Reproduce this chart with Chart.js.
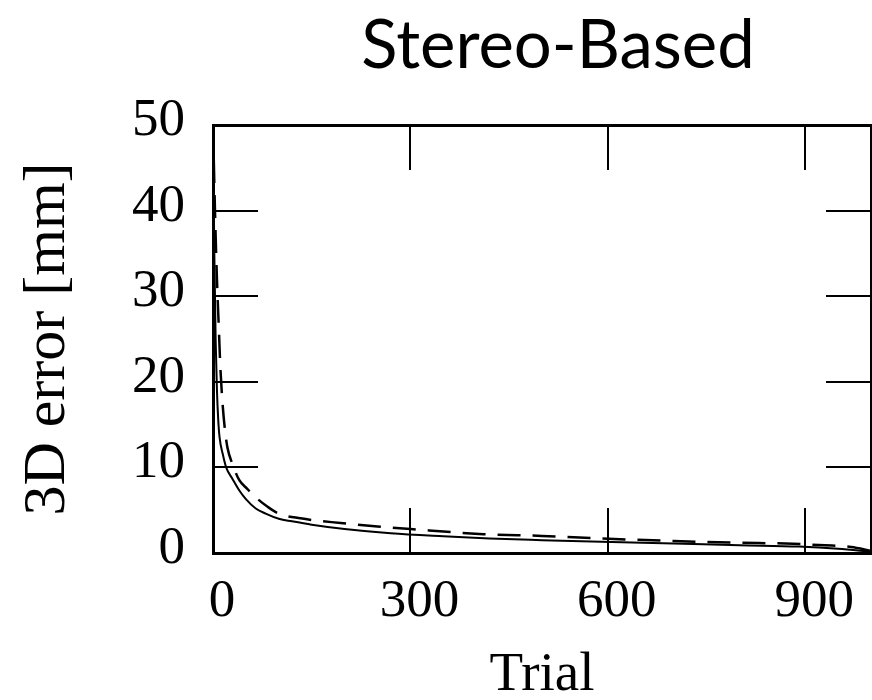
<!DOCTYPE html>
<html>
<head>
<meta charset="utf-8">
<script src="https://cdn.jsdelivr.net/npm/chart.js@4.4.0/dist/chart.umd.min.js"></script>
<style>
  html, body { margin: 0; padding: 0; background: #fff; }
</style>
</head>
<body>
<canvas id="errChart" width="872" height="700"></canvas>
<script>
// solid curve
var trialSolid = [0, 2, 4, 6, 8, 10, 15, 20, 30, 40, 50, 65, 80, 100, 120, 150, 200, 270, 350, 420, 500, 590, 700, 800, 890, 950, 1000];
var errSolid   = [50, 35, 25, 19, 15.5, 13.5, 11.5, 10, 8.6, 7.3, 6.3, 5.2, 4.6, 4.0, 3.7, 3.3, 2.8, 2.3, 1.95, 1.7, 1.5, 1.3, 1.1, 0.9, 0.75, 0.5, 0.15];
// dashed curve
var trialDash = [0, 3, 6, 9, 11, 14, 18, 22, 30, 40, 52, 65, 83, 100, 133, 194, 250, 300, 411, 500, 588, 700, 800, 870, 930, 970, 1000];
var errDash   = [50, 40, 32, 26, 22, 18, 14.5, 12.3, 10.3, 8.5, 7.5, 6.5, 5.4, 4.6, 4.05, 3.5, 3.1, 2.8, 2.2, 2.0, 1.7, 1.4, 1.2, 1.1, 0.9, 0.7, 0.25];

var xTickVals = [0, 300, 600, 900];
var yTickVals = [0, 10, 20, 30, 40, 50];

function pts(xs, ys) {
  return xs.map(function (x, i) { return { x: x, y: ys[i] }; });
}

var tickFont = { family: 'Liberation Serif', size: 53 };

// inward ticks, no grid inside the plot
function tickGrid() {
  return { drawOnChartArea: false, drawTicks: true, tickLength: -45, lineWidth: 2, color: '#000' };
}

// fixed axis box sizes, and no extra edge padding for the tick labels
function fixSize(w, h) {
  return function (axis) {
    if (w !== null) axis.width = w;
    if (h !== null) axis.height = h;
    axis.paddingLeft = axis.paddingRight = axis.paddingTop = axis.paddingBottom = 0;
  };
}

const plotTitle = {
  id: 'plotTitle',
  afterDraw(chart) {
    const ctx = chart.ctx, a = chart.chartArea;
    ctx.save();
    ctx.font = '67px Lato';
    ctx.fillStyle = '#000';
    ctx.textAlign = 'center';
    ctx.textBaseline = 'alphabetic';
    ctx.fillText('Stereo-Based', (a.left + a.right) / 2 + 16, 68);
    ctx.restore();
  }
};

var ctx = document.getElementById('errChart');
var chart = new Chart(ctx, {
  type: 'line',
  data: {
    datasets: [
      {
        data: pts(trialSolid, errSolid),
        borderColor: '#000',
        borderWidth: 2,
        pointRadius: 0,
        cubicInterpolationMode: 'monotone',
        fill: false,
      },
      {
        data: pts(trialDash, errDash),
        borderColor: '#000',
        borderWidth: 2.5,
        borderDash: [23, 12],
        pointRadius: 0,
        cubicInterpolationMode: 'monotone',
        fill: false,
      },
    ],
  },
  plugins: [plotTitle],
  options: {
    responsive: false,
    animation: false,
    layout: { padding: { top: 125, right: 1, bottom: 0, left: 0 } },
    plugins: {
      legend: { display: false },
      tooltip: { enabled: false },
    },
    scales: {
      x: {
        type: 'linear',
        position: 'bottom',
        min: 0,
        max: 1000,
        afterBuildTicks: function (axis) { axis.ticks = xTickVals.map(function (v) { return { value: v }; }); },
        afterFit: fixSize(null, 147),
        grid: tickGrid(),
        border: { width: 3, color: '#000' },
        ticks: { font: tickFont, color: '#000', padding: 62, labelOffset: 9, maxRotation: 0 },
        title: {
          display: true,
          text: 'Trial',
          color: '#000',
          font: { family: 'Liberation Serif', size: 55, lineHeight: 0.9 },
          padding: { top: 0, bottom: 0 },
        },
      },
      x2: {
        type: 'linear',
        position: 'top',
        min: 0,
        max: 1000,
        afterBuildTicks: function (axis) { axis.ticks = xTickVals.map(function (v) { return { value: v }; }); },
        afterFit: fixSize(null, 0),
        grid: tickGrid(),
        border: { width: 3, color: '#000' },
        ticks: { display: false },
      },
      y: {
        type: 'linear',
        position: 'left',
        min: 0,
        max: 50,
        afterBuildTicks: function (axis) { axis.ticks = yTickVals.map(function (v) { return { value: v }; }); },
        afterFit: fixSize(213, null),
        grid: tickGrid(),
        border: { width: 3, color: '#000' },
        ticks: { font: tickFont, color: '#000', padding: 73, labelOffset: -4 },
        title: {
          display: true,
          text: '3D error [mm]',
          color: '#000',
          font: { family: 'Liberation Serif', size: 60, lineHeight: 1.2 },
          padding: { top: 12, bottom: 0 },
        },
      },
      y2: {
        type: 'linear',
        position: 'right',
        min: 0,
        max: 50,
        afterBuildTicks: function (axis) { axis.ticks = yTickVals.map(function (v) { return { value: v }; }); },
        afterFit: fixSize(0, null),
        grid: tickGrid(),
        border: { width: 3, color: '#000' },
        ticks: { display: false },
      },
    },
  },
});
</script>
</body>
</html>
